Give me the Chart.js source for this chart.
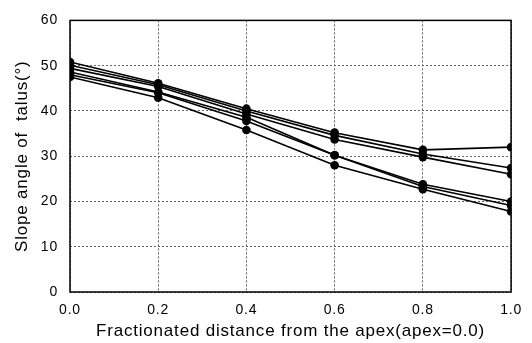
<!DOCTYPE html>
<html>
<head>
<meta charset="utf-8">
<script src="https://cdn.jsdelivr.net/npm/chart.js@4"></script>
<style>
  html,body{margin:0;padding:0;background:#fff;}
  #wrap{width:532px;height:343px;}
</style>
</head>
<body>
<div id="wrap"><canvas id="chart" width="532" height="343"></canvas></div>
<script>
// fractionated distance from apex
const distances = [0.0, 0.2, 0.4, 0.6, 0.8, 1.0];

// slope angle of talus, one array per profile
const profile1 = [50.8, 46.1, 40.5, 35.2, 31.4, 32.0];
const profile2 = [50.1, 45.8, 40.0, 34.6, 30.5, 27.4];
const profile3 = [49.4, 45.4, 39.3, 33.7, 29.8, 26.0];
const profile4 = [48.6, 44.2, 38.6, 30.2, 23.8, 20.0];
const profile5 = [48.0, 44.0, 37.8, 30.2, 23.3, 19.1];
const profile6 = [47.5, 42.9, 35.8, 28.0, 22.7, 17.8];

const xTicks = [0.0, 0.2, 0.4, 0.6, 0.8, 1.0];
const yTicks = [0, 10, 20, 30, 40, 50, 60];

function qs(id){return document.getElementById(id);}

function series(vals){
  return {
    data: vals.map((v,i)=>({x: distances[i], y: v})),
    borderColor: '#000',
    backgroundColor: '#000',
    borderWidth: 1.6,
    pointRadius: 4.3,
    pointBorderWidth: 0,
    tension: 0,
    fill: false
  };
}

// frame round the plot area, plus the scanned look of spaced letters
const frame = {
  id: 'frame',
  beforeUpdate(c){ c.ctx.letterSpacing = '0.8px'; },
  beforeDraw(c){ c.ctx.letterSpacing = '0.8px'; },
  afterDatasetsDraw(c){
    const a = c.chartArea, ctx = c.ctx;
    ctx.save();
    ctx.strokeStyle = '#000';
    ctx.lineWidth = 1.5;
    ctx.strokeRect(a.left, a.top, a.right - a.left, a.bottom - a.top);
    ctx.restore();
  }
};

const font = {family: '"Liberation Sans", Arial, sans-serif'};

new Chart(qs('chart').getContext('2d'), {
  type: 'line',
  data: {
    datasets: [profile1, profile2, profile3, profile4, profile5, profile6].map(series)
  },
  options: {
    responsive: false,
    animation: false,
    layout: {padding: {top: 14, right: 19, left: 0, bottom: 0}},
    plugins: {legend: {display: false}, tooltip: {enabled: false}},
    scales: {
      x: {
        type: 'linear', min: 0, max: 1,
        afterBuildTicks: s => { s.ticks = xTicks.map(v=>({value: v})); },
        afterFit: s => { s.height = 51; },
        grid: {color: '#666', lineWidth: 1, drawTicks: false},
        border: {display: false, dash: [2,2]},
        ticks: {
          color: '#000', padding: 10,
          font: {...font, size: 14},
          callback: v => v.toFixed(1)
        },
        title: {
          display: true, text: 'Fractionated distance from the apex(apex=0.0)',
          color: '#000', font: {...font, size: 17}, padding: {top: 0, bottom: 1}
        }
      },
      y: {
        min: 0, max: 60,
        afterBuildTicks: s => { s.ticks = yTicks.map(v=>({value: v})); },
        afterFit: s => { s.width = 70; },
        grid: {color: '#666', lineWidth: 1, drawTicks: false},
        border: {display: false, dash: [2,2]},
        ticks: {color: '#000', padding: 12, font: {...font, size: 14}},
        title: {
          display: true, text: 'Slope angle of  talus(°)',
          color: '#000', font: {...font, size: 17}, padding: {top: 12, bottom: 0}
        }
      }
    }
  },
  plugins: [frame]
});
</script>
</body>
</html>
